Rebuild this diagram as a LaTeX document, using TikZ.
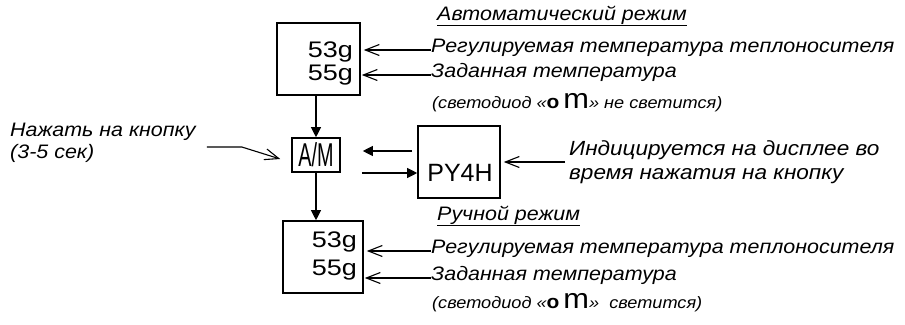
\documentclass[tikz,border=0pt]{standalone}
\usepackage{fontspec}
\setmainfont{Liberation Sans}
\newfontfamily\stretchfont[FakeStretch=1.1]{Liberation Sans}
\newfontfamily\digitfont[FakeStretch=1.2]{Liberation Sans}
\usetikzlibrary{arrows.meta,calc}
\newcommand{\lbf}{\stretchfont\itshape\fontsize{19.5}{22}\selectfont}
\newcommand{\sbf}{\stretchfont\itshape\fontsize{16.5}{20}\selectfont}
\newcommand{\ibf}{\stretchfont\itshape\fontsize{20.5}{24}\selectfont}
\newcommand{\dsp}{\digitfont\fontsize{22.5}{25}\selectfont}
\newcommand{\om}{{\upshape\bfseries\fontsize{19}{17}\selectfont o}\hspace{4pt}{\upshape\fontsize{28}{17}\selectfont m}}
\tikzset{
  box/.style={draw, line width=1.6pt, inner sep=0pt},
  lab/.style={font=\lbf, inner sep=0pt, anchor=mid west, align=left},
  note/.style={font=\sbf, inner sep=0pt, anchor=mid west, align=left},
  labarrow/.style={line width=1.1pt, -{Straight Barb[length=14pt,width=11pt,line width=1.1pt]}},
  flow/.style={line width=1.1pt, -{Triangle[length=10pt,width=10pt]}},
  dtext/.style={font=\dsp, inner sep=0pt, align=right, anchor=east},
  head/.style={font=\lbf, inner sep=0pt, anchor=base west}
}
\begin{document}
\begin{tikzpicture}[x=1pt,y=-1pt]
\useasboundingbox (0,0) rectangle (905,324);
% boxes
\node[box, minimum width=83pt, minimum height=72pt] (top) at (318.5,59) {};
\node[box, minimum width=48pt, minimum height=34pt, font=\upshape\fontsize{22}{22}\selectfont] (am) at (316,155) {\scalebox{0.9}[1.5]{A/M}};
\node[box, minimum width=82pt, minimum height=72pt] (py) at (459,162) {};
\node[box, minimum width=80pt, minimum height=72pt] (bot) at (323,257) {};
\node[font=\upshape\fontsize{25}{25}\selectfont, inner sep=0pt] (pytext) at (460,173) {PY4H};
% display texts
\node[dtext] (t1) at (353,52) {53g};
\node[dtext] (t2) at (353,75) {55g};
\node[dtext] (b1) at (357,242) {53g};
\node[dtext] (b2) at (357,270) {55g};
% labels top
\node[head] (hauto) at (437,20) {\underline{Автоматический режим}};
\node[lab] (l1) at (431,50) {Регулируемая температура теплоносителя};
\node[lab] (l2) at (431,75) {Заданная температура};
\node[note] (l3) at (432,106) {(светодиод «\om» не светится)};
% labels bottom
\node[head] (hman) at (437,220) {\underline{Ручной режим}};
\node[lab] (m1) at (431,251) {Регулируемая температура теплоносителя};
\node[lab] (m2) at (431,278) {Заданная температура};
\node[note] (m3) at (432,306) {(светодиод «\om»\ \ светится)};
% side labels
\node[lab, anchor=west] (press) at (10,143) {Нажать на кнопку\\(3-5 сек)};
\node[lab, font=\ibf, anchor=west] (ind) at (569,162) {Индицируется на дисплее во\\время нажатия на кнопку};
% helper coordinates
\coordinate (ua) at ($(py.west)+(-5,-11)$);
\coordinate (ub) at ($(am.east)+(22,-4)$);
\coordinate (la) at ($(am.east)+(21,18)$);
\coordinate (lb) at ($(py.west)+(0,11)$);
% label arrows
\draw[labarrow] (l1.mid west) -- ([xshift=3pt]l1.mid west -| top.east);
\draw[labarrow] (l2.mid west) -- ([xshift=1pt]l2.mid west -| top.east);
\draw[labarrow] (m1.mid west) -- ([xshift=3pt]m1.mid west -| bot.east);
\draw[labarrow] (m2.mid west) -- ([xshift=1pt]m2.mid west -| bot.east);
\draw[labarrow] ([xshift=-4pt]ind.west) -- ([xshift=3pt]ind.west -| py.east);
\draw[labarrow] ($(press.east)+(11,4)$) -- ++(35,0) -- ($(am.west)+(-11,4)$);
% flow arrows
\draw[flow] (top.south -| am.north) -- (am.north);
\draw[flow] (am.south) -- (am.south |- bot.north);
\draw[flow] (ua) -- (ua -| ub);
\draw[flow] (lb -| la) -- (lb);
\end{tikzpicture}
\end{document}
